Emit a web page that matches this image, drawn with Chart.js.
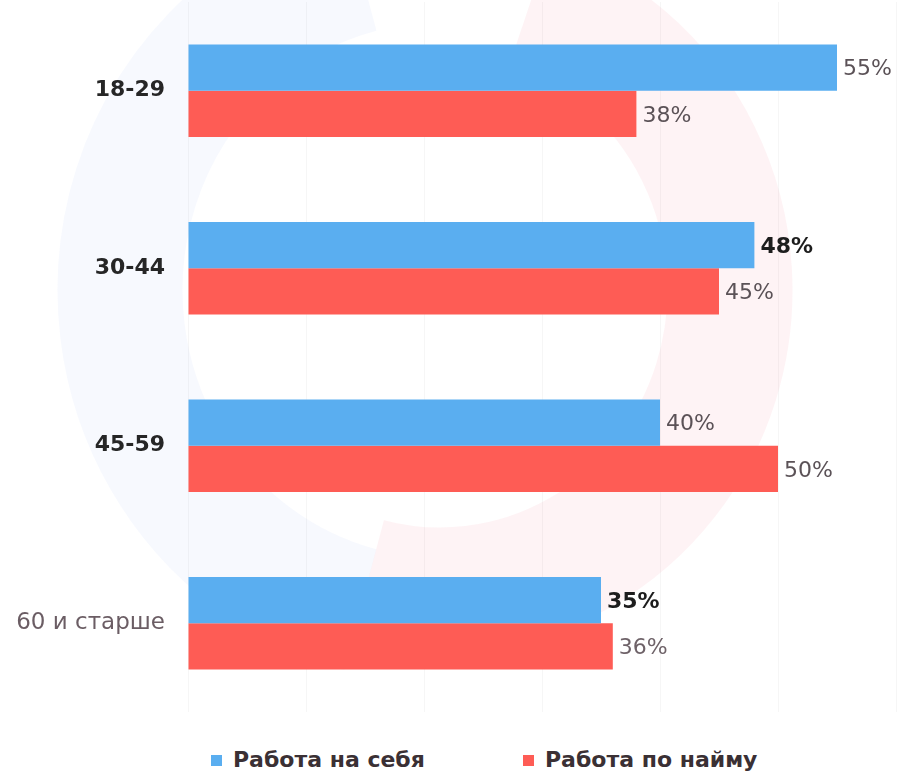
<!DOCTYPE html>
<html>
<head>
<meta charset="utf-8">
<script src="https://cdn.jsdelivr.net/npm/chart.js@4.4.1/dist/chart.umd.min.js"></script>
<style>
  html, body { margin:0; padding:0; background:#fff; }
  #wrap { position:relative; width:901px; height:776px; }
  #box { position:absolute; left:0; top:0; width:901px; height:716px; }
  #legend { position:absolute; top:743px; left:0; width:901px; height:34px;
    font-family:"DejaVu Sans", sans-serif; font-size:22px; font-weight:700; color:#3a3034; }
  #legend span { position:absolute; top:0; white-space:nowrap; line-height:34px; }
  #legend i { display:inline-block; width:11px; height:11px; margin-right:11px; vertical-align:1px; }
</style>
</head>
<body>
<div id="wrap">
  <div id="box"><canvas id="chart"></canvas></div>
  <div id="legend"></div>
</div>
<script>
const categories = ["18-29", "30-44", "45-59", "60 и старше"];
const selfWork = [55, 48, 40, 35];
const hiredWork = [38, 45, 50, 36];
const seriesNames = ["Работа на себя", "Работа по найму"];
const xTicks = [0, 10, 20, 30, 40, 50, 60];

const COLORS = { blue: "#5aaef0", red: "#fe5c55" };

// label colours as printed (some bold dark, some greyish)
const selfLabelStyle = [["#5b5257", "normal"], ["#1d1d1d", "bold"], ["#5b5257", "normal"], ["#1d1d1d", "bold"]];
const hiredLabelStyle = [["#5b5257", "normal"], ["#5b5257", "normal"], ["#5b5257", "normal"], ["#6e6268", "normal"]];
const catLabelColor = ["#262626", "#262626", "#262626", "#6b5d64"];
const catLabelWeight = ["bold", "bold", "bold", "normal"];
const catLabelSize = [22, 22, 22, 23];

const FONT = "'DejaVu Sans', sans-serif";

// faint bleed-through ring in the background
const ringBg = {
  id: "ringBg",
  beforeDraw(chart){
    const c = chart.ctx;
    c.save();
    c.lineWidth = 125;
    c.strokeStyle = "rgba(120,150,230,0.06)";
    c.beginPath();
    c.ellipse(440, 290, 320, 330, 0, Math.PI*0.58, Math.PI*1.42);
    c.stroke();
    c.strokeStyle = "rgba(240,80,110,0.07)";
    c.beginPath();
    c.ellipse(440, 290, 290, 300, 0, -Math.PI*0.40, Math.PI*0.58);
    c.stroke();
    c.restore();
  }
};

const valueLabels = {
  id: "valueLabels",
  afterDatasetsDraw(chart){
    const c = chart.ctx;
    c.save();
    c.textBaseline = "middle";
    c.textAlign = "left";
    chart.data.datasets.forEach((ds, di) => {
      const meta = chart.getDatasetMeta(di);
      const styles = di === 0 ? selfLabelStyle : hiredLabelStyle;
      meta.data.forEach((bar, i) => {
        c.fillStyle = styles[i][0];
        c.font = `${styles[i][1]} 22px ${FONT}`;
        c.fillText(ds.data[i] + "%", bar.x + 6, bar.y + 2);
      });
    });
    c.restore();
  }
};

const chart = new Chart(document.getElementById("chart"), {
  type: "bar",
  data: {
    labels: categories,
    datasets: [
      { label: seriesNames[0], data: selfWork, backgroundColor: COLORS.blue },
      { label: seriesNames[1], data: hiredWork, backgroundColor: COLORS.red }
    ]
  },
  options: {
    indexAxis: "y",
    responsive: true,
    maintainAspectRatio: false,
    animation: false,
    layout: { padding: { top: 2, right: 5, bottom: 0 } },
    datasets: { bar: { barPercentage: 1, categoryPercentage: 0.52 } },
    plugins: {
      legend: { display: false },
      tooltip: { enabled: false }
    },
    scales: {
      x: {
        min: 0, max: 60,
        afterBuildTicks: (s) => { s.ticks = xTicks.map(v => ({ value: v })); },
        afterFit: (s) => { s.height = 4; },
        ticks: { display: false },
        border: { display: false },
        grid: { color: "rgba(0,0,0,0.035)", drawTicks: false }
      },
      y: {
        afterFit: (s) => { s.width = 188; s.paddingTop = 0; s.paddingBottom = 0; },
        border: { display: false },
        grid: { display: false },
        ticks: {
          padding: 15,
          color: (ctx) => catLabelColor[ctx.index],
          font: (ctx) => ({ family: FONT, size: catLabelSize[ctx.index], weight: catLabelWeight[ctx.index] })
        }
      }
    }
  },
  plugins: [ringBg, valueLabels]
});

// legend laid out like the print: two items spread under the bars
const legendEl = document.getElementById("legend");
const legendX = [211, 523];
chart.data.datasets.forEach((ds, i) => {
  const s = document.createElement("span");
  s.style.left = legendX[i] + "px";
  s.innerHTML = `<i style="background:${ds.backgroundColor}"></i>${ds.label}`;
  legendEl.appendChild(s);
});
</script>
</body>
</html>
